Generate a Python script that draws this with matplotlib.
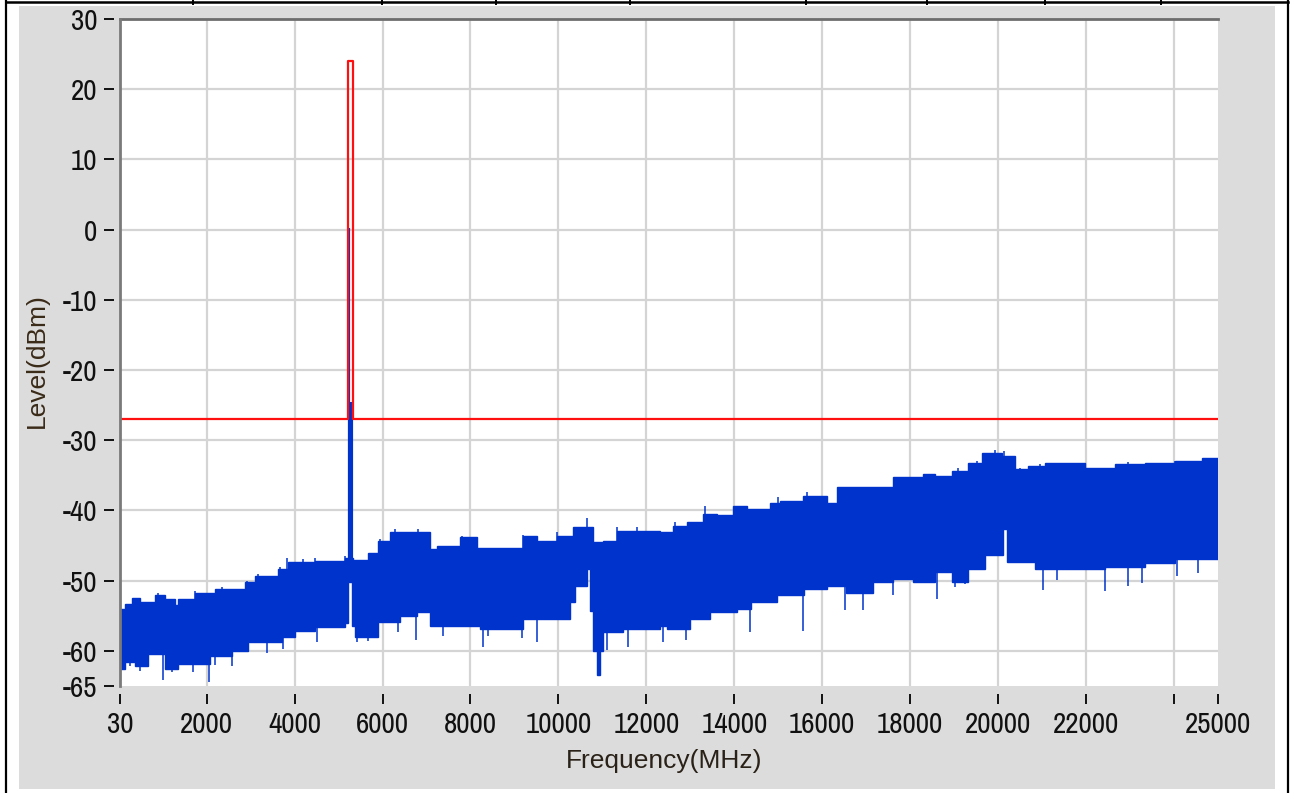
import numpy as np
import matplotlib
matplotlib.use("Agg")
import matplotlib.pyplot as plt
from matplotlib.lines import Line2D
from matplotlib.patches import Rectangle
from matplotlib import font_manager

# ---------------- data ----------------
# noise band: upper envelope (segment start frequency, level), held until next start
upper_f = [30, 144, 303, 485, 826, 1053, 1281, 1349, 1736, 2191, 2873, 3100, 3623, 3851,
           4465, 5147, 5329, 5670, 5898, 6171, 6284, 7080, 7240, 7763, 8149, 9195, 9513,
           9968, 10332, 10787, 11015, 11333, 12311, 12607, 12925, 13289, 13608, 13972,
           14290, 14813, 15040, 15563, 16109, 16336, 17610, 18292, 18565, 18952, 19316,
           19634, 20089, 20385, 20681, 21067, 21977, 22659, 23341, 24023, 24637, 25000]
upper_v = [-54.0, -53.3, -52.5, -53.1, -52.0, -52.6, -53.5, -52.6, -51.7, -51.2, -50.2,
           -49.3, -48.3, -47.4, -47.2, -46.8, -47.0, -46.0, -44.3, -43.0, -43.1, -45.5,
           -45.0, -43.8, -45.3, -43.6, -44.3, -43.6, -42.4, -44.5, -44.3, -42.9, -43.1,
           -42.2, -41.7, -40.5, -40.7, -39.3, -39.8, -38.9, -38.7, -37.9, -39.0, -36.7,
           -35.3, -34.8, -35.1, -34.4, -33.2, -31.8, -32.2, -34.1, -33.6, -33.2, -33.9,
           -33.4, -33.2, -33.0, -32.5, -32.5]

# noise band: lower envelope (segment start frequency, level)
lower_f = [30, 144, 371, 667, 1053, 1349, 2077, 2577, 2941, 3714, 4010, 4465, 5147, 5215,
           5306, 5374, 5898, 6398, 6785, 7080, 8217, 9195, 10264, 10378, 10651, 10719,
           10787, 10878, 10947, 11015, 11470, 12311, 12470, 12994, 13448, 14063, 14381,
           14972, 15586, 16109, 16541, 17155, 17610, 18065, 18565, 18952, 19316, 19703,
           20112, 20203, 20840, 22432, 23341, 24023, 25000]
lower_v = [-62.6, -61.6, -62.1, -60.4, -62.6, -61.9, -60.7, -60.0, -58.8, -58.0, -57.1,
           -56.6, -56.0, -50.2, -56.5, -58.0, -55.9, -55.0, -54.5, -56.4, -56.9, -55.5,
           -53.1, -50.7, -48.3, -54.3, -60.0, -63.5, -60.0, -57.3, -56.9, -56.4, -56.9,
           -55.5, -54.5, -54.0, -53.1, -52.1, -51.2, -50.7, -51.7, -50.2, -49.8, -50.2,
           -48.8, -50.2, -48.3, -46.4, -42.7, -47.4, -48.3, -48.0, -47.5, -46.9, -46.9]

# isolated downward noise spikes (frequency, minimum level)
dip_f = [257, 485, 1015, 1206, 1690, 2061, 2191, 2570, 3366, 3744, 4504, 5413, 5670,
         6360, 6762, 7383, 8279, 8407, 9166, 9507, 11099, 11591, 12387, 12903, 14358,
         15571, 16519, 16935, 17617, 18604, 19020, 19248, 21030, 21333, 22432, 22963,
         23266, 24062, 24554]
dip_v = [-62.1, -62.9, -64.2, -63.0, -63.0, -64.4, -62.0, -62.1, -60.3, -59.7, -58.8,
         -58.8, -58.6, -57.3, -58.5, -57.9, -59.4, -57.9, -58.1, -58.8, -59.9, -59.4,
         -58.8, -58.5, -57.3, -57.1, -54.2, -54.2, -52.1, -52.6, -50.9, -50.5, -51.3,
         -49.9, -51.5, -50.8, -50.3, -49.4, -48.9]

# isolated upward noise spikes (frequency, maximum level)
peak_f = [901, 1736, 2343, 2912, 3175, 3669, 3821, 4199, 4465, 5147, 5944, 6284, 6815,
          7802, 9203, 9962, 10644, 11326, 11781, 12652, 13334, 14092, 15002, 15647,
          15988, 16366, 16784, 17466, 17769, 17958, 18376, 19096, 19514, 19742, 19930,
          20141, 20499, 20954, 21484, 21977, 22963, 23380, 24023, 24819]
peak_v = [-51.8, -51.5, -50.9, -50.1, -49.0, -48.1, -46.8, -46.9, -46.8, -46.5, -44.0,
          -42.7, -42.6, -43.6, -43.5, -43.0, -41.1, -42.4, -42.4, -41.7, -39.4, -39.6,
          -38.1, -37.3, -38.0, -36.8, -36.8, -36.8, -35.6, -35.4, -35.2, -34.0, -33.0,
          -32.1, -31.4, -31.6, -33.9, -33.4, -33.8, -33.2, -33.1, -33.2, -32.9, -32.5]

# carrier at ~5.2 GHz
carrier_f = [5247, 5284]
carrier_top = [0.3, -24.5]
carrier_base = -48.0

# limit mask (red)
mask_f = [30, 5206, 5206, 5336, 5336, 25000]
mask_v = [-27, -27, 24, 24, -27, -27]

# axes
xticks = [30, 2000, 4000, 6000, 8000, 10000, 12000, 14000, 16000, 18000, 20000,
          22000, 24000, 25000]
xtick_labels = ["30", "2000", "4000", "6000", "8000", "10000", "12000", "14000",
                "16000", "18000", "20000", "22000", "", "25000"]
yticks = [30, 20, 10, 0, -10, -20, -30, -40, -50, -60, -65]
ytick_labels = ["30", "20", "10", "0", "-10", "-20", "-30", "-40", "-50", "-60", "-65"]
xgrid = [2000, 4000, 6000, 8000, 10000, 12000, 14000, 16000, 18000, 20000, 22000, 24000]
ygrid = [20, 10, 0, -10, -20, -30, -40, -50, -60]
xlabel = "Frequency(MHz)"
ylabel = "Level(dBm)"

# ---------------- fonts ----------------
avail = {f.name for f in font_manager.fontManager.ttflist}
if "Archivo Narrow" in avail:
    tick_family, tick_stretch, tick_size = ["Archivo Narrow", "DejaVu Sans"], "normal", 21
else:
    tick_family, tick_stretch, tick_size = ["DejaVu Sans"], "condensed", 18
label_font = ["Liberation Sans", "DejaVu Sans"]

BLUE = "#0033cc"
W, H = 1290, 793
fig = plt.figure(figsize=(W / 100, H / 100), dpi=100, facecolor="white")

# gray panel and outer frame
fig.patches.append(Rectangle((19 / W, 1 - 789 / H), (1275 - 19) / W, (789 - 6) / H,
                             transform=fig.transFigure, facecolor="#dcdcdc",
                             edgecolor="none", zorder=-10))
for xx in (5.5, 1287.5):
    fig.add_artist(Line2D([xx / W, xx / W], [0, 1], transform=fig.transFigure,
                          color="black", lw=1.6, zorder=-5))
fig.add_artist(Line2D([5.5 / W, 1287.5 / W], [1 - 1.5 / H, 1 - 1.5 / H],
                      transform=fig.transFigure, color="black", lw=1.8, zorder=-5))
for xx in (193, 382, 496, 630, 806, 927, 1045, 1161):
    fig.add_artist(Line2D([xx / W, xx / W], [1, 1 - 4 / H], transform=fig.transFigure,
                          color="black", lw=1.4, zorder=-5))

ax = fig.add_axes([120 / W, 1 - 686 / H, (1218 - 120) / W, (686 - 19) / H])
ax.set_zorder(1)
ax.set_facecolor("white")
ax.set_xlim(30, 25000)
ax.set_ylim(-65, 30)

# grid
for g in xgrid:
    ax.axvline(g, color="#d4d4d4", lw=1.6, zorder=1)
for g in ygrid:
    ax.axhline(g, color="#d4d4d4", lw=1.6, zorder=1)

# noise band polygon built from the two step envelopes
ux, uy = [], []
for i in range(len(upper_f) - 1):
    ux += [upper_f[i], upper_f[i + 1]]
    uy += [upper_v[i], upper_v[i]]
lx, ly = [], []
for i in range(len(lower_f) - 1):
    lx += [lower_f[i], lower_f[i + 1]]
    ly += [lower_v[i], lower_v[i]]
ax.fill(ux + lx[::-1], uy + ly[::-1], color=BLUE, lw=1.0, ec=BLUE, zorder=3)
ax.vlines(dip_f, dip_v, np.array(dip_v) + 6, color=BLUE, lw=1.1, zorder=3)
ax.vlines(peak_f, np.array(peak_v) - 6, peak_v, color=BLUE, lw=1.1, zorder=3)
ax.vlines(carrier_f[0], carrier_base, carrier_top[0], color=BLUE, lw=1.6, zorder=4)
ax.vlines(carrier_f[1], carrier_base, carrier_top[1], color=BLUE, lw=3.0, zorder=4)

# red mask
ax.plot(mask_f, mask_v, color="#ff1010", lw=1.6, zorder=5)

# spines
for s in ("right", "bottom"):
    ax.spines[s].set_visible(False)
ax.spines["left"].set_position(("outward", 4))
ax.spines["left"].set_visible(False)
ax.spines["bottom"].set_position(("outward", 6))
ax.spines["bottom"].set_visible(False)
ax.spines["top"].set_color("#6e6e6e")
ax.spines["top"].set_linewidth(2.0)
ax.add_line(Line2D([0, 0], [0, 1], transform=ax.transAxes, color="#7a7a7a",
                   lw=2.0, clip_on=False, zorder=6))

ax.set_xticks(xticks)
ax.set_xticklabels(xtick_labels)
ax.set_yticks(yticks)
ax.set_yticklabels(ytick_labels)
ax.tick_params(axis="both", direction="out", length=7.2, width=1.4, color="#111111",
               labelcolor="#111111", labelsize=tick_size)
ax.tick_params(axis="y", pad=5)
ax.tick_params(axis="x", pad=5)
for lab in ax.get_xticklabels() + ax.get_yticklabels():
    lab.set_family(tick_family)
    lab.set_fontstretch(tick_stretch)

fig.text(664 / W, 1 - 768 / H, xlabel, ha="center", va="baseline", fontsize=19,
         family=label_font, color="#2a2218")
fig.text(37 / W, 1 - 361 / H, ylabel, ha="center", va="center", rotation=90,
         fontsize=19, family=label_font, color="#3a2a18")

fig.savefig("out.png", dpi=100, facecolor="white")
